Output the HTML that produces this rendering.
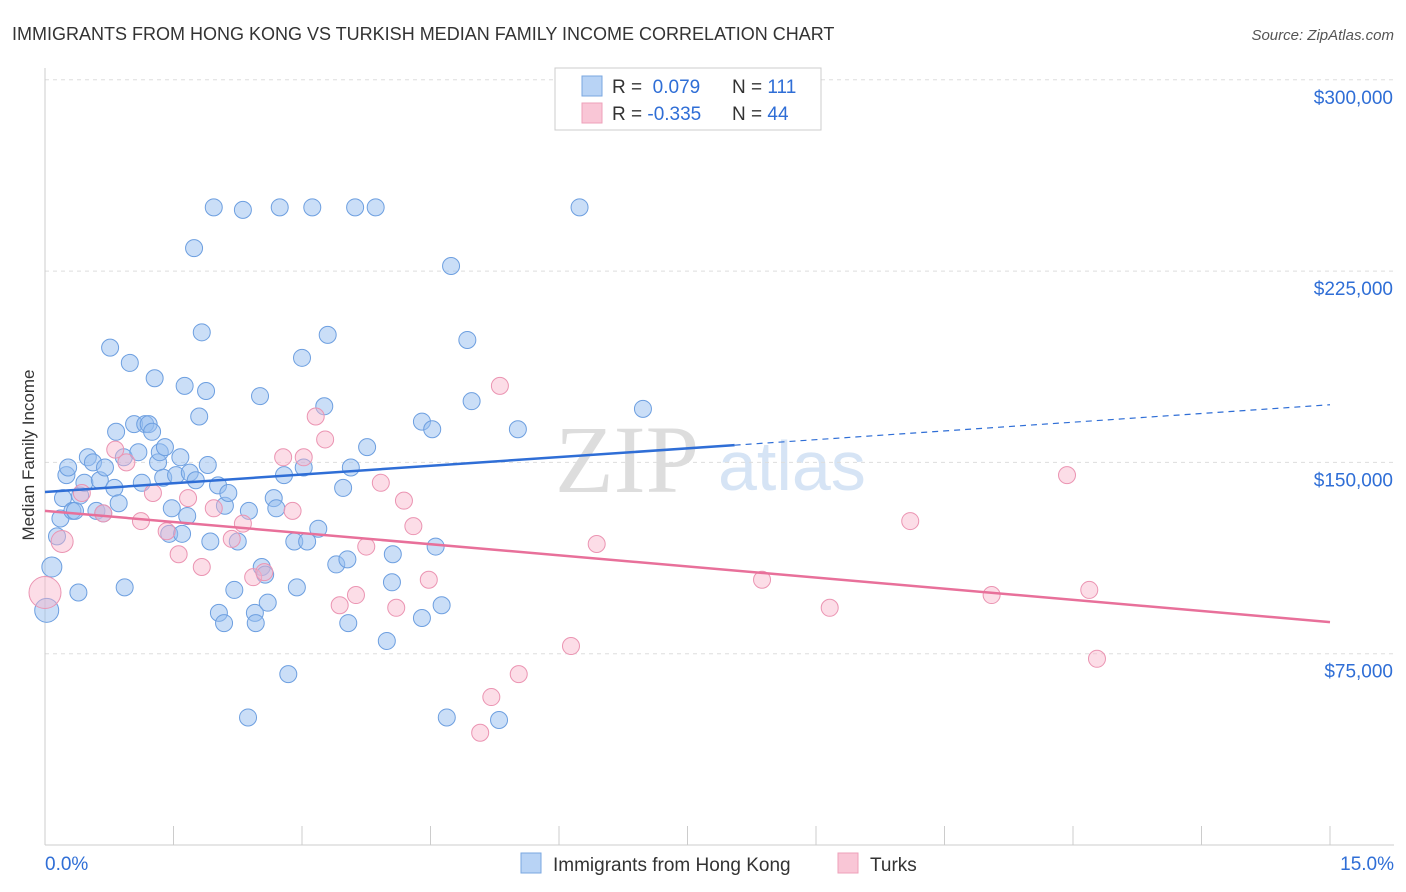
<!DOCTYPE html>
<html><head><meta charset="utf-8"><style>
body{margin:0;background:#fff;font-family:"Liberation Sans",sans-serif}
#c{position:absolute;left:0;top:0}
</style></head><body>
<svg id="c" width="1406" height="892" xmlns="http://www.w3.org/2000/svg">
<text x="12" y="40" font-size="18" fill="#333">IMMIGRANTS FROM HONG KONG VS TURKISH MEDIAN FAMILY INCOME CORRELATION CHART</text>
<text x="1394" y="40" font-size="15" fill="#555" text-anchor="end" font-style="italic">Source: ZipAtlas.com</text>
<text x="34" y="455" font-size="17" fill="#333" text-anchor="middle" transform="rotate(-90 34 455)">Median Family Income</text>
<text x="555" y="492" font-size="96" fill="#ddd" font-family="Liberation Serif,serif">ZIP</text>
<text x="718" y="490" font-size="70" fill="#d6e4f5">atlas</text>
<g id="grid"></g><g id="axes"></g><g id="pts"></g><g id="lines"></g>
<g>
<rect x="555" y="68" width="266" height="62" fill="#fff" stroke="#ccc"/>
<rect x="582" y="76" width="20" height="20" fill="#b8d3f5" stroke="#7aa7e0"/>
<rect x="582" y="103" width="20" height="20" fill="#f9c6d6" stroke="#eea0ba"/>
<text x="612" y="93" font-size="19" fill="#333">R = <tspan fill="#2f6ed6">&#160;0.079</tspan><tspan x="732">N = </tspan><tspan fill="#2f6ed6">111</tspan></text>
<text x="612" y="120" font-size="19" fill="#333">R = <tspan fill="#2f6ed6">-0.335</tspan><tspan x="732">N = </tspan><tspan fill="#2f6ed6">44</tspan></text>
</g>
<g>
<rect x="521" y="853" width="20" height="20" fill="#b8d3f5" stroke="#7aa7e0"/>
<text x="553" y="871" font-size="19" fill="#333">Immigrants from Hong Kong</text>
<rect x="838" y="853" width="20" height="20" fill="#f9c6d6" stroke="#eea0ba"/>
<text x="870" y="871" font-size="19" fill="#333">Turks</text>
</g>
</svg>
<script>
const blueX=[0.02,0.08,0.14,0.18,0.21,0.25,0.27,0.32,0.35,0.41,0.46,0.50,0.56,0.60,0.64,0.70,0.68,0.39,0.76,0.81,0.83,0.86,0.92,0.93,0.99,1.04,1.09,1.13,1.17,1.21,1.25,1.28,1.32,1.34,1.38,1.40,1.45,1.48,1.53,1.58,1.60,1.63,1.66,1.69,1.74,1.76,1.80,1.83,1.88,1.90,1.93,1.97,2.02,2.03,2.09,2.10,2.14,2.21,2.25,2.31,2.37,2.38,2.45,2.46,2.51,2.53,2.57,2.60,2.67,2.70,2.74,2.79,2.84,2.91,2.94,3.00,3.02,3.06,3.12,3.19,3.26,3.30,3.40,3.48,3.53,3.54,3.57,3.62,3.76,3.86,3.99,4.05,4.06,4.40,4.40,4.52,4.56,4.63,4.69,4.74,4.93,4.98,5.30,5.52,6.24,6.98];
const blueY=[92,109,121,128,136,145,148,131,131,137,142,152,150,131,143,148,130,99,195,140,162,134,152,101,189,165,154,142,165,165,162,183,150,154,144,156,122,132,145,152,122,180,129,146,234,143,168,201,178,149,119,250,141,91,87,133,138,100,119,249,50,131,91,87,176,109,106,95,136,132,250,145,67,119,101,191,148,119,250,124,172,200,110,140,112,87,148,250,156,250,80,103,114,166,89,163,117,94,50,227,198,174,49,163,250,171];
const pinkX=[0,0.2,0.43,0.68,0.82,0.95,1.12,1.26,1.42,1.56,1.67,1.83,1.97,2.18,2.31,2.43,2.56,2.78,2.89,3.02,3.16,3.27,3.44,3.63,3.75,3.92,4.10,4.19,4.30,4.48,5.08,5.21,5.31,5.53,6.14,6.44,8.37,9.16,10.10,11.05,11.93,12.19,12.28];
const pinkY=[99,119,138,130,155,150,127,138,123,114,136,109,132,120,126,105,107,152,131,152,168,159,94,98,117,142,93,135,125,104,44,58,180,67,78,118,104,93,127,98,145,100,73];
const yTicks=[75,150,225,300];
const blueTrend=[138.4,172.6], pinkTrend=[131,87.4];
const blueSolidEnd=8.05;
const X=v=>45+v/15*1285, Y=v=>845-v/75*191.3;
const NS="http://www.w3.org/2000/svg";
function mk(tag,attrs,parent){const e=document.createElementNS(NS,tag);for(const k in attrs)e.setAttribute(k,attrs[k]);document.getElementById(parent).appendChild(e);return e;}
yTicks.forEach(t=>{
 const l=mk('line',{x1:45,x2:1394,y1:Y(t),y2:Y(t),stroke:'#ddd','stroke-dasharray':'4,4'},'grid');
 
 
 const tx=mk('text',{x:1393,y:Y(t)+24,'font-size':19,fill:'#2f6ed6','text-anchor':'end'},'grid');
 tx.textContent='$'+t+',000';
 
 
});
let ax=mk('line',{x1:45,x2:45,y1:68,y2:845,stroke:'#ccc'},'axes');


ax=mk('line',{x1:45,x2:1394,y1:845,y2:845,stroke:'#ccc'},'axes');


for(let i=0;i<=10;i++){const t=mk('line',{x1:X(i*1.5),x2:X(i*1.5),y1:826,y2:845,stroke:'#ccc'},'axes');
 
 }
let xl=mk('text',{x:45,y:870,'font-size':19,fill:'#2f6ed6'},'axes');xl.textContent='0.0%';


xl=mk('text',{x:1394,y:870,'font-size':19,fill:'#2f6ed6','text-anchor':'end'},'axes');xl.textContent='15.0%';


blueX.forEach((v,i)=>{const c=mk('circle',{cx:X(v),cy:Y(blueY[i]),r:i==0?12:(i<2?10:8.5),fill:'rgba(150,190,240,0.5)',stroke:'#6d9fe0','stroke-width':1},'pts');
 
 });
pinkX.forEach((v,i)=>{const c=mk('circle',{cx:X(v),cy:Y(pinkY[i]),r:i==0?16:(i==1?11:8.5),fill:'rgba(248,180,202,0.45)',stroke:'#eb94b2','stroke-width':1},'pts');
 
 });
const bAt=x=>blueTrend[0]+(blueTrend[1]-blueTrend[0])*x/15;
let ln=mk('line',{x1:X(0),y1:Y(bAt(0)),x2:X(blueSolidEnd),y2:Y(bAt(blueSolidEnd)),stroke:'#2f6ed6','stroke-width':2.5},'lines');


ln=mk('line',{x1:X(blueSolidEnd),y1:Y(bAt(blueSolidEnd)),x2:X(15),y2:Y(bAt(15)),stroke:'#2f6ed6','stroke-width':1.2,'stroke-dasharray':'6,5'},'lines');


ln=mk('line',{x1:X(0),y1:Y(pinkTrend[0]),x2:X(15),y2:Y(pinkTrend[1]),stroke:'#e8709a','stroke-width':2.5},'lines');


</script>
</body></html>
